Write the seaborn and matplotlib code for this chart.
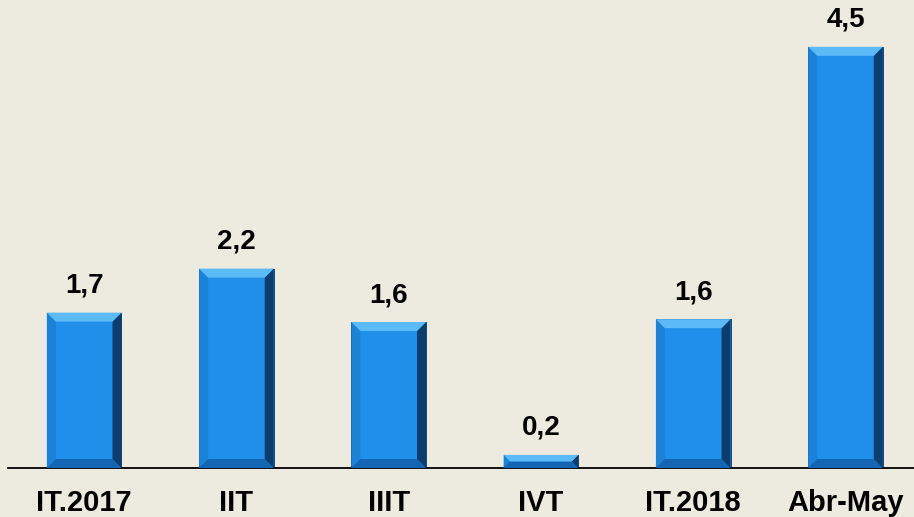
import matplotlib
matplotlib.use('Agg')
import matplotlib.pyplot as plt
from matplotlib.patches import Polygon
from matplotlib.transforms import IdentityTransform
import seaborn as sns

# Data (bar heights, labels as printed)
periods = ['IT.2017', 'IIT', 'IIIT', 'IVT', 'IT.2018', 'Abr-May']
values = [1.66, 2.13, 1.56, 0.14, 1.59, 4.5]
labels = ['1,7', '2,2', '1,6', '0,2', '1,6', '4,5']

bg = '#EDEAE0'
face = '#1F8FEA'

sns.set_style('white')
plt.rcParams['font.family'] = ['Liberation Sans', 'DejaVu Sans']
plt.rcParams['text.color'] = 'black'
plt.rcParams['xtick.color'] = 'black'

fig = plt.figure(figsize=(9.14, 5.17), dpi=100)
fig.patch.set_facecolor(bg)
ax = fig.add_axes([0.0088, 0.0948, 0.9912, 0.9052])
ax.set_facecolor(bg)

sns.barplot(x=periods, y=values, color=face, saturation=1, width=0.49,
            edgecolor='#0A3560', linewidth=0.6, ax=ax)

ax.set_xlim(-0.5, 5.45)
ax.set_ylim(0, 5)
for s in ['top', 'right', 'left']:
    ax.spines[s].set_visible(False)
ax.spines['bottom'].set_color('black')
ax.spines['bottom'].set_linewidth(1.3)
ax.set_yticks([])
ax.set_xlabel('')
ax.set_ylabel('')
ax.tick_params(axis='x', length=0, pad=15, colors='black')
for lbl in ax.get_xticklabels():
    lbl.set_fontsize(21)
    lbl.set_fontweight('bold')
    lbl.set_color('black')

ax.bar_label(ax.containers[0], labels=labels, padding=10, fontsize=20,
             fontweight='bold', color='black')

# bevel effect drawn from each bar's geometry (display coords)
fig.canvas.draw()
for p in ax.patches:
    x0, y0 = ax.transData.transform((p.get_x(), p.get_y()))
    x1, y1 = ax.transData.transform((p.get_x() + p.get_width(), p.get_y() + p.get_height()))
    b = min(9, (y1 - y0) / 2, (x1 - x0) / 2)
    top = [(x0, y1), (x1, y1), (x1 - b, y1 - b), (x0 + b, y1 - b)]
    bottom = [(x0, y0), (x1, y0), (x1 - b, y0 + b), (x0 + b, y0 + b)]
    left = [(x0, y0), (x0, y1), (x0 + b, y1 - b), (x0 + b, y0 + b)]
    right = [(x1, y0), (x1, y1), (x1 - b, y1 - b), (x1 - b, y0 + b)]
    for poly, col in [(left, '#1B82DA'), (bottom, '#1466B4'),
                      (right, '#0B3D6E'), (top, '#5CBAF6')]:
        fig.patches.append(Polygon(poly, closed=True, facecolor=col, edgecolor='none',
                                   transform=IdentityTransform(), figure=fig, zorder=5))

fig.savefig('out.png', dpi=100, facecolor=bg)
